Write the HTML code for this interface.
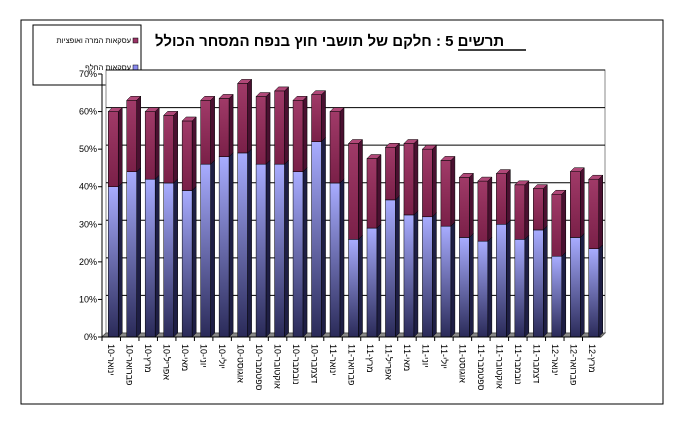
<!DOCTYPE html>
<html><head><meta charset="utf-8"><style>
body{margin:0;background:#fff;width:684px;height:427px;overflow:hidden}
svg text{font-family:"Liberation Sans","DejaVu Sans",sans-serif}
</style></head><body>
<svg id="c" width="684" height="427">
<defs>
<linearGradient id="gb" x1="0" y1="0" x2="0" y2="1"><stop offset="0" stop-color="#a8acff"/><stop offset="1" stop-color="#2a2a58"/></linearGradient>
<linearGradient id="gm" x1="0" y1="0" x2="0" y2="1"><stop offset="0" stop-color="#a03a68"/><stop offset="1" stop-color="#7a2048"/></linearGradient>
</defs>
<rect x="21" y="20" width="642" height="384" fill="#fff" stroke="#000"/>
<g>
<rect x="33" y="25" width="108" height="60" fill="#fff" stroke="#000"/>
<rect x="133" y="38" width="5" height="5" fill="#993366" stroke="#000" stroke-width="0.5"/>
<text x="131" y="43" font-size="7.5" text-anchor="end">עסקאות המרה ואופציות</text>
<rect x="133" y="65" width="5" height="5" fill="#8888ee" stroke="#000" stroke-width="0.5"/>
<text x="131" y="70" font-size="7.5" text-anchor="end">עסקאות החלף</text>
</g>
<text x="155" y="46" font-size="15" font-weight="bold" text-anchor="start">תרשים 5 : חלקם של תושבי חוץ בנפח המסחר הכולל</text>
<line x1="458" y1="50" x2="526" y2="50" stroke="#000" stroke-width="1.5"/>
<g id="plot"></g>
</svg>
<script>
const categories=["ינואר-10","פברואר-10","מרץ-10","אפריל-10","מאי-10","יוני-10","יולי-10","אוגוסט-10","ספטמבר-10","אוקטובר-10","נובמבר-10","דצמבר-10","ינואר-11","פברואר-11","מרץ-11","אפריל-11","מאי-11","יוני-11","יולי-11","אוגוסט-11","ספטמבר-11","אוקטובר-11","נובמבר-11","דצמבר-11","ינואר-12","פברואר-12","מרץ-12"];
const swapValues=[40,44,42,41,39,46,48,49,46,46,44,52,41,26,29,36.5,32.5,32,29.5,26.5,25.5,30,26,28.5,21.5,26.5,23.5];
const optionValues=[20,19,18,18,18.5,17,15.5,18.5,18,19.5,19,12.5,19,25.5,18.5,14,19,18,17.5,16,16,13.5,14.5,11,16.5,17.5,18.5];
const tickLabels=["0%","10%","20%","30%","40%","50%","60%","70%"];
const NS="http://www.w3.org/2000/svg";
const g=document.getElementById('plot');
const x0=106,x1=605,y0=333,yTop=70,d=4;
const y=v=>y0-(v/70)*(y0-yTop);
const step=(x1-x0)/categories.length;
const xc=i=>x0+step*(i+0.5);
function mk(t,a){const e=document.createElementNS(NS,t);for(const k in a)e.setAttribute(k,a[k]);g.appendChild(e);return e;}
let w=mk('rect',{x:x0,y:yTop,width:x1-x0,height:y0-yTop,fill:'#fff',stroke:'#888'});


let fl=mk('polygon',{points:`${x0-d},${y0+d} ${x1-d},${y0+d} ${x1},${y0} ${x0},${y0}`,fill:'#888',stroke:'#555'});


tickLabels.forEach((t,i)=>{
 const v=i*10,yy=y(v);
 if(i>0){const l=mk('line',{x1:x0,y1:yy,x2:x1,y2:yy,stroke:'#000','stroke-width':1});
 
 }
 const tk=mk('line',{x1:x0-d-4,y1:yy+d,x2:x0-d,y2:yy+d,stroke:'#000'});
 
 
 const tx=mk('text',{x:x0-d-5,y:yy+d+3,'font-size':9,'text-anchor':'end'});
 tx.textContent=t;
 
 
});
const ax=mk('line',{x1:x0-d,y1:y0+d,x2:x0-d,y2:yTop+d,stroke:'#000'});


const bw=10;
function bar(i,lo,hi,fill,side,top,name){
 const cx=xc(i)-d/2,l=cx-bw/2,yl=y(lo)+d,yh=y(hi)+d;
 const grp=document.createElementNS(NS,'g');g.appendChild(grp);
 
 
 const add=(t,a)=>{const e=document.createElementNS(NS,t);for(const k in a)e.setAttribute(k,a[k]);grp.appendChild(e);};
 add('rect',{x:l,y:yh,width:bw,height:yl-yh,fill:fill,stroke:'#000','stroke-width':0.5});
 add('polygon',{points:`${l+bw},${yh} ${l+bw+d},${yh-d} ${l+bw+d},${yl-d} ${l+bw},${yl}`,fill:side,stroke:'#000','stroke-width':0.5});
 add('polygon',{points:`${l},${yh} ${l+d},${yh-d} ${l+bw+d},${yh-d} ${l+bw},${yh}`,fill:top,stroke:'#000','stroke-width':0.5});
}
categories.forEach((c,i)=>{
 bar(i,0,swapValues[i],'url(#gb)','#1e1e44','#9fa3f0','bar-swap-'+i);
 bar(i,swapValues[i],swapValues[i]+optionValues[i],'url(#gm)','#4a1030','#b04878','bar-options-'+i);
 const tx=mk('text',{'font-size':9,transform:`translate(${xc(i)-d-3},${y0+d+7}) rotate(90)`,'text-anchor':'start'});
 tx.textContent=c;
 
 
 const tk=mk('line',{x1:x0-d+step*i,y1:y0+d,x2:x0-d+step*i,y2:y0+d+4,stroke:'#000'});
 
 
});
const xa=mk('line',{x1:x0-d,y1:y0+d,x2:x1-d,y2:y0+d,stroke:'#000'});


</script>
</body></html>
